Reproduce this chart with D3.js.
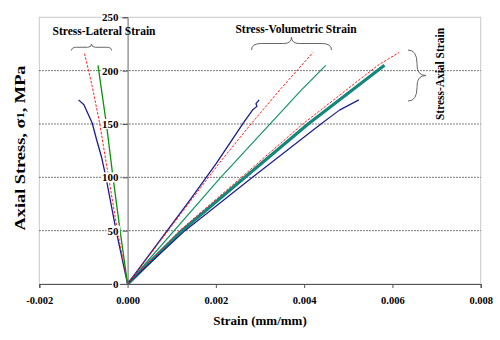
<!DOCTYPE html>
<html>
<head>
<meta charset="utf-8">
<script src="https://cdn.jsdelivr.net/npm/d3@7"></script>
<style>
  html, body { margin: 0; padding: 0; background: #fff; }
  svg { display: block; }
  text { font-family: "Liberation Serif", "Times New Roman", serif; font-weight: bold; fill: #000; }
</style>
</head>
<body>
<svg id="chart" width="500" height="340"></svg>
<script>
// Axis ticks
const xTicks = [-0.002, 0, 0.002, 0.004, 0.006, 0.008];
const yTicks = [0, 50, 100, 150, 200, 250];
const gridValues = [50, 100, 150, 200];

// Specimen curves: [strain, axial stress in MPa]
const blueLateral = [[0, 0], [-0.00026, 50], [-0.00049, 100], [-0.00059, 119], [-0.0007, 135],
  [-0.0008, 150.7], [-0.00092, 161.6], [-0.00099, 168], [-0.00111, 172.6]];
const redLateral = [[0, 0], [-0.00023, 50], [-0.00043, 100], [-0.00063, 150], [-0.0008, 185], [-0.00098, 217]];
const greenLateral = [[0, 0], [-0.00017, 50], [-0.00033, 100], [-0.00048, 150], [-0.00067, 205]];

const blueVolumetric = [[0, 0], [0.00142, 79], [0.00201, 113], [0.00262, 150.7], [0.00283, 163],
  [0.00293, 166.5], [0.00291, 169], [0.00298, 172.6]];
const redVolumetric = [[0, 0], [0.00209, 114], [0.00281, 150.7], [0.00345, 182], [0.0042, 217]];
const greenVolumetric = [[0, 0], [0.00209, 99], [0.00394, 182], [0.00449, 205]];

const blueAxial = [[0, 0], [0.0013, 50], [0.00283, 100], [0.00438, 150], [0.0048, 163], [0.00524, 172.6]];
const redAxial = [[0, 0], [0.00118, 50], [0.00258, 100], [0.00397, 150], [0.00567, 205], [0.00615, 217]];
const greenAxial = [[0, 0], [0.00123, 50], [0.00266, 100], [0.00409, 150], [0.00582, 205]];

const svg = d3.select("#chart");
const plotLeft = 39.3, plotRight = 480.7, plotTop = 17.3, plotBottom = 284;

const x = d3.scaleLinear().domain([-0.002, 0.008]).range([plotLeft, plotRight]);
const y = d3.scaleLinear().domain([0, 250]).range([plotBottom, plotTop]);

// Plot frame
svg.append("rect")
  .attr("x", plotLeft).attr("y", plotTop)
  .attr("width", plotRight - plotLeft).attr("height", plotBottom - plotTop)
  .attr("fill", "none").attr("stroke", "#c8c8c8").attr("stroke-width", 1);

// Dotted horizontal gridlines
svg.append("g").selectAll("line").data(gridValues).join("line")
  .attr("x1", plotLeft).attr("x2", plotRight)
  .attr("y1", d => y(d)).attr("y2", d => y(d))
  .attr("stroke", "#333").attr("stroke-width", 1)
  .attr("stroke-dasharray", "1.3,1.7");

// Curves
const line = d3.line().x(d => x(d[0])).y(d => y(d[1]));
const series = [
  { data: greenAxial, color: "#12877a", width: 3.2, dash: null },
  { data: blueAxial, color: "#1c1c8e", width: 1.2, dash: null },
  { data: redAxial, color: "#ff2020", width: 1, dash: "2.5,1.5" },
  { data: greenVolumetric, color: "#169468", width: 1.2, dash: null },
  { data: blueVolumetric, color: "#1c1c8e", width: 1.3, dash: null },
  { data: redVolumetric, color: "#ff2020", width: 1, dash: "2.5,1.5" },
  { data: blueLateral, color: "#1c1c8e", width: 1.3, dash: null },
  { data: redLateral, color: "#ff2020", width: 1, dash: "2.5,1.5" },
  { data: greenLateral, color: "#0a900a", width: 1.3, dash: null }
];
svg.append("g").selectAll("path").data(series).join("path")
  .attr("d", d => line(d.data))
  .attr("fill", "none")
  .attr("stroke", d => d.color)
  .attr("stroke-width", d => d.width)
  .attr("stroke-dasharray", d => d.dash)
  .attr("stroke-linejoin", "round");

// X axis along stress = 0
const fmt = d3.format(".3f");
const xAxis = svg.append("g").attr("transform", `translate(0,${plotBottom})`)
  .call(d3.axisBottom(x).tickValues(xTicks).tickFormat(d => d < 0 ? "-" + fmt(-d) : fmt(d)).tickSize(4).tickPadding(9));
xAxis.select(".domain").attr("stroke", "#555").attr("stroke-width", 1.2);
xAxis.selectAll(".tick line").attr("stroke", "#555");
xAxis.selectAll(".tick text")
  .attr("font-size", 10.5).attr("font-family", "Liberation Serif").attr("font-weight", "bold");

// Y axis along strain = 0
const yAxis = svg.append("g").attr("transform", `translate(${x(0)},0)`)
  .call(d3.axisLeft(y).tickValues(yTicks).tickSize(5).tickPadding(4));
yAxis.select(".domain").attr("stroke", "#666").attr("stroke-width", 1);
yAxis.selectAll(".tick line").attr("stroke", "#555");
yAxis.selectAll(".tick text")
  .attr("font-size", 11).attr("font-family", "Liberation Serif").attr("font-weight", "bold");
yAxis.selectAll(".tick").each(function () {
  const t = d3.select(this).select("text");
  const b = t.node().getBBox();
  d3.select(this).insert("rect", "text")
    .attr("x", b.x - 1).attr("y", b.y + 1).attr("width", b.width + 2).attr("height", b.height - 2)
    .attr("fill", "#fff");
});

// Axis titles
svg.append("text")
  .attr("x", 260).attr("y", 325)
  .attr("text-anchor", "middle").attr("font-size", 13)
  .text("Strain (mm/mm)");

const yTitle = svg.append("text")
  .attr("transform", "translate(25,148) rotate(-90)")
  .attr("text-anchor", "middle").attr("font-size", 14.5)
  .attr("textLength", 165).attr("lengthAdjust", "spacingAndGlyphs");
yTitle.append("tspan").text("Axial Stress, σ");
yTitle.append("tspan").attr("font-size", 10).attr("dy", -1).text("1");
yTitle.append("tspan").attr("dy", 1).text(", MPa");

// Curve group annotations with braces
function hBrace(x0, x1, yTop, yBot) {
  const m = (x0 + x1) / 2, h = yBot - yTop, r = h / 2;
  return `M${x0},${yBot} Q${x0},${yTop + r} ${x0 + r * 1.5},${yTop + r} L${m - r * 1.2},${yTop + r} Q${m},${yTop + r} ${m},${yTop}` +
    ` Q${m},${yTop + r} ${m + r * 1.2},${yTop + r} L${x1 - r * 1.5},${yTop + r} Q${x1},${yTop + r} ${x1},${yBot}`;
}
function vBrace(y0, y1, xLeft, xRight) {
  const m = (y0 + y1) / 2, w = xRight - xLeft, r = w / 2;
  return `M${xLeft},${y0} Q${xLeft + r},${y0} ${xLeft + r},${y0 + r * 1.5} L${xLeft + r},${m - r * 1.2} Q${xLeft + r},${m} ${xRight},${m}` +
    ` Q${xLeft + r},${m} ${xLeft + r},${m + r * 1.2} L${xLeft + r},${y1 - r * 1.5} Q${xLeft + r},${y1} ${xLeft},${y1}`;
}

svg.append("text").attr("x", 104).attr("y", 35).attr("text-anchor", "middle").attr("font-size", 11.5)
  .text("Stress-Lateral Strain");
svg.append("path").attr("d", hBrace(71.5, 111.5, 44, 50.5))
  .attr("fill", "none").attr("stroke", "#666").attr("stroke-width", 1);

svg.append("text").attr("x", 296).attr("y", 33).attr("text-anchor", "middle").attr("font-size", 11.5)
  .text("Stress-Volumetric Strain");
svg.append("path").attr("d", hBrace(251.5, 331.5, 37, 50))
  .attr("fill", "none").attr("stroke", "#666").attr("stroke-width", 1);

svg.append("text")
  .attr("transform", "translate(444,74) rotate(-90)")
  .attr("text-anchor", "middle").attr("font-size", 12)
  .attr("textLength", 92).attr("lengthAdjust", "spacingAndGlyphs")
  .text("Stress-Axial Strain");
svg.append("path").attr("d", vBrace(50, 101, 408, 426))
  .attr("fill", "none").attr("stroke", "#666").attr("stroke-width", 1);
</script>
</body>
</html>
